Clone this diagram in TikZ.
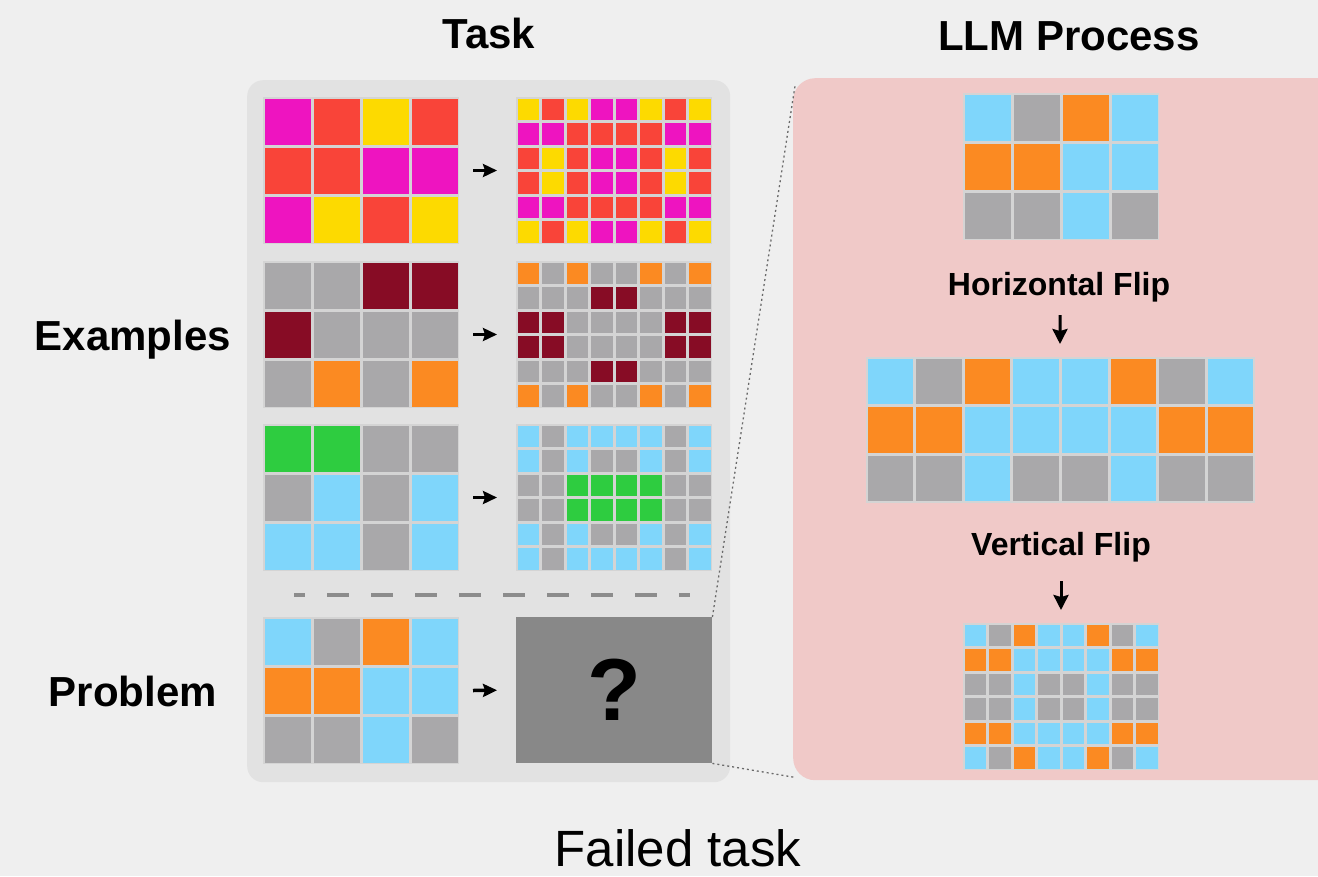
\documentclass[tikz,border=0pt]{standalone}
\usepackage{fontspec}
\setmainfont{Liberation Sans}
\usetikzlibrary{arrows.meta,calc}

\definecolor{bgc}{HTML}{EFEFEF}
\definecolor{taskbg}{HTML}{E2E2E2}
\definecolor{llmbg}{HTML}{F0C9C8}
\definecolor{linec}{HTML}{D4D4D4}
\definecolor{qbox}{HTML}{888888}
\definecolor{sepc}{HTML}{8C8C8C}
\definecolor{dotc}{HTML}{6A6A6A}
% cell colours
\definecolor{cM}{HTML}{EE14C0}
\definecolor{cR}{HTML}{F94439}
\definecolor{cY}{HTML}{FDDA00}
\definecolor{cD}{HTML}{870C25}
\definecolor{cG}{HTML}{A9A8AA}
\definecolor{cO}{HTML}{FB8A22}
\definecolor{cB}{HTML}{7FD6FB}
\definecolor{cN}{HTML}{2ECC40}

\tikzset{
  gridframe/.style={fill=linec, draw=none, inner sep=0pt, outer sep=0pt},
  flow/.style={-{Stealth[length=14pt,width=13pt,inset=2pt]}, line width=3.5pt, black},
  flowdown/.style={-{Stealth[length=15pt,width=15pt,inset=2pt]}, line width=3pt, black},
  heading/.style={font=\fontsize{42}{50}\selectfont\bfseries, anchor=base, inner sep=0pt},
  steplabel/.style={font=\fontsize{32}{38}\selectfont\bfseries, anchor=base, inner sep=0pt},
  zoomline/.style={dotc, line width=1.3pt, dash pattern=on 2pt off 3pt},
}

% grid of coloured cells: name, left, top, cell size, columns, rows, colour list
\newcommand\cellgrid[7]{%
  \node[gridframe, anchor=north west, minimum width={#5*#4}, minimum height={#6*#4}] (#1) at (#2,#3) {};
  \foreach \gc [count=\k from 0] in {#7}{%
    \pgfmathtruncatemacro\gcol{mod(\k,#5)}%
    \pgfmathtruncatemacro\grow{div(\k,#5)}%
    \fill[c\gc] ({#2+\gcol*#4+1.5},{#3+\grow*#4+1.5}) rectangle ++({#4-3},{#4-3});
  }%
}

\begin{document}
\begin{tikzpicture}[x=1pt, y=-1pt]
  \fill[bgc] (0,0) rectangle (1318,876);
  \useasboundingbox (0,0) rectangle (1318,876);

  % panels
  \node[fill=taskbg, rounded corners=16pt, inner sep=0pt, anchor=north west,
        minimum width=483, minimum height=702] (task) at (247,80) {};
  \node[fill=llmbg, rounded corners=22pt, inner sep=0pt, anchor=north west,
        minimum width=560, minimum height=702] (llm) at (793,78) {};

  % headings
  \node[heading] (tasktitle) at (489,48) {Task};
  \node[heading] (llmtitle) at (1069,50) {LLM Process};
  \node[heading] (examples) at (133,350) {Examples};
  \node[heading] (problem) at (133,706) {Problem};
  \node[font=\fontsize{51}{60}\selectfont, anchor=base, inner sep=0pt] (caption) at (678,866) {Failed task};

  % example 1
  \cellgrid{in1}{263}{97}{49}{4}{3}{M,R,Y,R, R,R,M,M, M,Y,R,Y}
  \cellgrid{out1}{516}{97}{24.5}{8}{6}{
    Y,R,Y,M,M,Y,R,Y,
    M,M,R,R,R,R,M,M,
    R,Y,R,M,M,R,Y,R,
    R,Y,R,M,M,R,Y,R,
    M,M,R,R,R,R,M,M,
    Y,R,Y,M,M,Y,R,Y}
  % example 2
  \cellgrid{in2}{263}{261}{49}{4}{3}{G,G,D,D, D,G,G,G, G,O,G,O}
  \cellgrid{out2}{516}{261}{24.5}{8}{6}{
    O,G,O,G,G,O,G,O,
    G,G,G,D,D,G,G,G,
    D,D,G,G,G,G,D,D,
    D,D,G,G,G,G,D,D,
    G,G,G,D,D,G,G,G,
    O,G,O,G,G,O,G,O}
  % example 3
  \cellgrid{in3}{263}{424}{49}{4}{3}{N,N,G,G, G,B,G,B, B,B,G,B}
  \cellgrid{out3}{516}{424}{24.5}{8}{6}{
    B,G,B,B,B,B,G,B,
    B,G,B,G,G,B,G,B,
    G,G,N,N,N,N,G,G,
    G,G,N,N,N,N,G,G,
    B,G,B,G,G,B,G,B,
    B,G,B,B,B,B,G,B}

  % separator between examples and problem
  \draw[sepc, line width=3.5pt, dash pattern=on 22pt off 22pt, dash phase=11pt]
    (294,595) -- (690,595);

  % problem
  \cellgrid{in4}{263}{617}{49}{4}{3}{B,G,O,B, O,O,B,B, G,G,B,G}
  \node[fill=qbox, inner sep=0pt, anchor=north west, minimum width=196, minimum height=146,
        font=\fontsize{88}{88}\selectfont\bfseries] (ans) at (516,617) {?};

  % example and problem arrows
  \draw[flow] ([xshift=14pt]in1.east) -- ([xshift=-19pt]out1.west);
  \draw[flow] ([xshift=14pt]in2.east) -- ([xshift=-19pt]out2.west);
  \draw[flow] ([xshift=14pt]in3.east) -- ([xshift=-19pt]out3.west);
  \draw[flow] ([xshift=14pt]in4.east) -- ([xshift=-19pt]ans.west);

  % zoom lines from the unknown output to the LLM panel
  \draw[zoomline] (ans.north east) -- ($(llm.north west)+(2,8)$);
  \draw[zoomline] (ans.south east) -- ($(llm.south west)+(2,-3)$);

  % LLM process
  \cellgrid{llm1}{963}{93}{49}{4}{3}{B,G,O,B, O,O,B,B, G,G,B,G}
  \node[steplabel] (hflip) at (1059,295) {Horizontal Flip};
  \cellgrid{llm2}{866}{357}{48.6}{8}{3}{
    B,G,O,B,B,O,G,B,
    O,O,B,B,B,B,O,O,
    G,G,B,G,G,B,G,G}
  \node[steplabel] (vflip) at (1061,555) {Vertical Flip};
  \cellgrid{llm3}{963}{623}{24.5}{8}{6}{
    B,G,O,B,B,O,G,B,
    O,O,B,B,B,B,O,O,
    G,G,B,G,G,B,G,G,
    G,G,B,G,G,B,G,G,
    O,O,B,B,B,B,O,O,
    B,G,O,B,B,O,G,B}

  \draw[flowdown] ($(hflip.base)+(1,20)$) -- ($(llm2.north)+(-0.4,-13)$);
  \draw[flowdown] ($(vflip.base)+(0,26)$) -- ($(llm3.north)+(0,-13)$);
\end{tikzpicture}
\end{document}
